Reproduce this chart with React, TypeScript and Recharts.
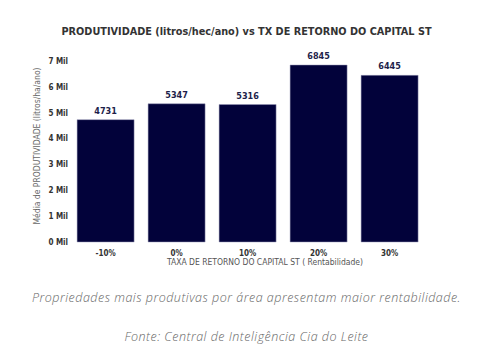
import React from 'react';
import { BarChart, Bar, XAxis, YAxis, LabelList } from 'recharts';

const categories = ['-10%', '0%', '10%', '20%', '30%'];
const values = [4731, 5347, 5316, 6845, 6445];
const yTicks = [0, 1000, 2000, 3000, 4000, 5000, 6000, 7000];

const data = categories.map((c, i) => ({ name: c, value: values[i] }));

const COND = '"DejaVu Sans Condensed", "DejaVu Sans", sans-serif';

export default function App() {
  return (
    <div style={{ position: 'absolute', left: 0, top: 0, width: 493, height: 358, background: '#fff' }}>
      <div style={{ position: 'absolute', left: 0, top: 24, width: 493, textAlign: 'center', fontFamily: COND, fontWeight: 'bold', fontSize: 10.8, color: '#333', lineHeight: '16px' }}>
        PRODUTIVIDADE (litros/hec/ano) vs TX DE RETORNO DO CAPITAL ST
      </div>
      <div style={{ position: 'absolute', left: 0, top: 0 }}>
        <BarChart width={493} height={280} data={data} margin={{ top: 61, right: 68, bottom: 8, left: 0 }} barCategoryGap="10%">
          <XAxis dataKey="name" axisLine={false} tickLine={false} tickSize={0} tickMargin={8}
            tick={{ fontFamily: COND, fontWeight: 'bold', fontSize: 8, fill: '#333' }} height={30}
            label={{ content: () => (
              <text x={265} y={265} textAnchor="middle" fontFamily={COND} fontSize={8.5} fill="#555">TAXA DE RETORNO DO CAPITAL ST ( Rentabilidade)</text>
            ) }} />
          <YAxis domain={[0, 7000]} ticks={yTicks} axisLine={false} tickLine={false} tickSize={0} tickMargin={2} width={70}
            tickFormatter={(v: number) => `${v / 1000} Mil`}
            tick={{ fontFamily: COND, fontWeight: 'bold', fontSize: 8, fill: '#333' }}
            label={{ content: () => (
              <text x={40} y={146} transform="rotate(-90 40 146)" textAnchor="middle" fontFamily={COND} fontSize={8.5} fill="#666">Média de PRODUTIVIDADE (litros/ha/ano)</text>
            ) }} />
          <Bar dataKey="value" fill="#02023a" stroke="#9a9ab8" strokeWidth={0.5} isAnimationActive={false}>
            <LabelList dataKey="value" position="top" offset={6} style={{ fontFamily: COND, fontWeight: 'bold', fontSize: 9, fill: '#1e1e4a' }} />
          </Bar>
        </BarChart>
      </div>
      <div style={{ position: 'absolute', left: 0, top: 290, width: 493, textAlign: 'center', fontFamily: '"Open Sans", sans-serif', fontStyle: 'italic', fontWeight: 300, fontSize: 12.5, letterSpacing: 0.5, color: '#666', lineHeight: '16px' }}>
        Propriedades mais produtivas por área apresentam maior rentabilidade.
      </div>
      <div style={{ position: 'absolute', left: 0, top: 329, width: 493, textAlign: 'center', fontFamily: '"Open Sans", sans-serif', fontStyle: 'italic', fontWeight: 300, fontSize: 12.5, letterSpacing: 0.5, color: '#666', lineHeight: '16px' }}>
        Fonte: Central de Inteligência Cia do Leite
      </div>
    </div>
  );
}
